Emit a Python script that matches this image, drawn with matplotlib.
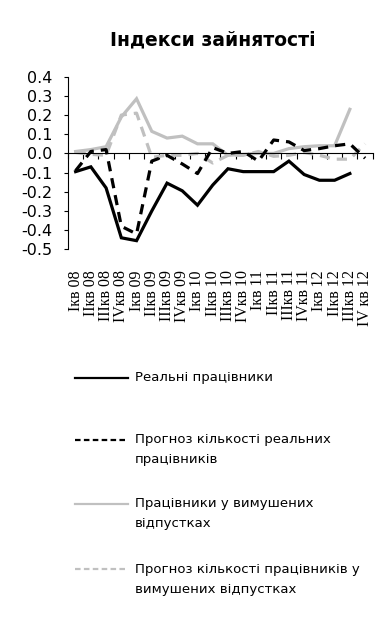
import numpy as np
import matplotlib
matplotlib.use("Agg")
import matplotlib.pyplot as plt
from matplotlib.lines import Line2D
from matplotlib.transforms import blended_transform_factory

# --- Data ---
quarters = ["Ікв 08", "ІІкв 08", "ІІІкв 08", "IVкв 08",
            "Ікв 09", "ІІкв 09", "ІІІкв 09", "IVкв 09",
            "Ікв 10", "ІІкв 10", "ІІІкв 10", "IVкв 10",
            "Ікв 11", "ІІкв 11", "ІІІкв 11", "IVкв 11",
            "Ікв 12", "ІІкв 12", "ІІІкв 12", "IV кв 12"]

real_workers = [-0.095, -0.07, -0.18, -0.44, -0.455, -0.30, -0.155, -0.195, -0.27, -0.165,
                -0.08, -0.095, -0.095, -0.095, -0.04, -0.11, -0.14, -0.14, -0.105, np.nan]
real_forecast = [-0.09, 0.01, 0.02, -0.38, -0.42, -0.04, -0.01, -0.055, -0.105, 0.03,
                 0.0, 0.01, -0.04, 0.07, 0.06, 0.015, 0.025, 0.04, 0.05, -0.025]
leave_workers = [0.01, 0.02, 0.035, 0.19, 0.285, 0.115, 0.08, 0.09, 0.05, 0.05,
                 -0.01, -0.005, 0.0, 0.0, 0.025, 0.035, 0.04, 0.04, 0.23, np.nan]
leave_forecast = [0.005, -0.005, -0.01, 0.2, 0.21, -0.02, -0.01, -0.01, 0.0, -0.05,
                  -0.01, -0.01, 0.01, -0.015, -0.01, 0.005, -0.01, -0.03, -0.03, 0.05]

y_ticks = [0.4, 0.3, 0.2, 0.1, 0.0, -0.1, -0.2, -0.3, -0.4, -0.5]

W, H = 389, 631
fig = plt.figure(figsize=(W / 100, H / 100), dpi=100)
ax = fig.add_axes([68 / W, 1 - 249.3 / H, (372.7 - 68) / W, (249.3 - 76.7) / H])

x = np.arange(len(quarters))
gray = "#c0c0c0"
ax.plot(x, leave_workers, color=gray, lw=2.3, solid_joinstyle="miter")
ax.plot(x, leave_forecast, color=gray, lw=2.3, ls=(0, (3.2, 2.2)))
ax.plot(x, real_forecast, color="black", lw=2.3, ls=(0, (3.2, 2.2)))
ax.plot(x, real_workers, color="black", lw=2.3, solid_joinstyle="miter")

ax.set_xlim(-0.5, len(quarters) - 0.5)
ax.set_ylim(-0.5, 0.4)

for s in ["top", "right"]:
    ax.spines[s].set_visible(False)
ax.spines["bottom"].set_position(("data", 0))
ax.spines["left"].set_linewidth(0.8)
ax.spines["bottom"].set_linewidth(0.8)

ax.set_yticks(y_ticks)
ax.set_yticklabels([f"{v:.1f}" for v in y_ticks], fontsize=11.5, family="DejaVu Sans")
ax.tick_params(axis="y", direction="out", length=3, width=0.8, pad=8)

ax.set_xticks(np.arange(len(quarters) + 1) - 0.5)
ax.set_xticklabels([])
ax.tick_params(axis="x", direction="out", length=4, width=0.8)

# category labels sit below the plot area
trans = blended_transform_factory(ax.transData, ax.transAxes)
for i, q in enumerate(quarters):
    ax.text(i, -0.12, q, transform=trans, rotation=90, ha="center", va="top",
            fontsize=11.5, family="Liberation Serif")

fig.text(213 / W, 1 - 40 / H, "Індекси зайнятості", ha="center", va="center",
         fontsize=13.5, fontweight="bold", family="DejaVu Sans")

# --- Legend ---
legend_items = [
    (378, ["Реальні працівники"], "black", "-"),
    (440, ["Прогноз кількості реальних", "працівників"], "black", (0, (2.5, 1.5))),
    (504, ["Працівники у вимушених", "відпустках"], gray, "-"),
    (569, ["Прогноз кількості працівників у", "вимушених відпустках"], gray, (0, (2.5, 1.5))),
]
for y_px, lines, col, style in legend_items:
    fig.add_artist(Line2D([75 / W, 128 / W], [1 - y_px / H, 1 - y_px / H],
                          color=col, lw=1.6, ls=style, transform=fig.transFigure))
    for k, txt in enumerate(lines):
        fig.text(135 / W, 1 - (y_px + 20 * k) / H, txt, ha="left", va="center",
                 fontsize=9.5, family="DejaVu Sans")

fig.savefig("out.png", dpi=100)
